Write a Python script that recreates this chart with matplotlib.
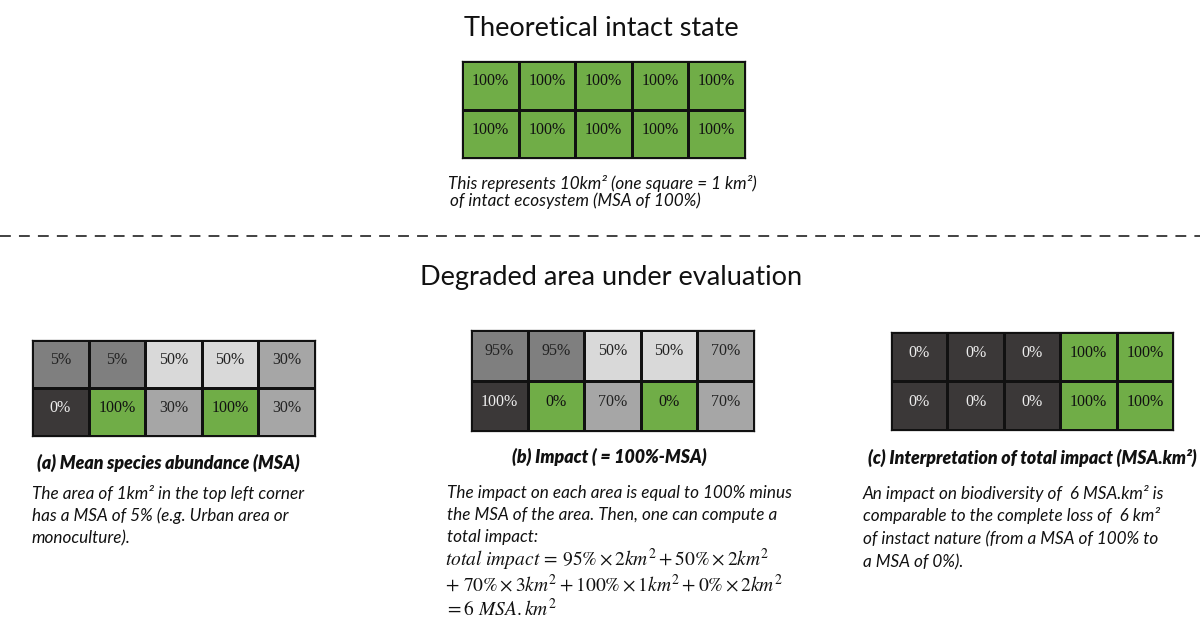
import matplotlib
matplotlib.use("Agg")
import matplotlib.pyplot as plt
from matplotlib.colors import ListedColormap
import numpy as np

plt.rcParams['mathtext.fontset'] = 'stix'

# ---- data ----
intact_msa = [[100, 100, 100, 100, 100],
              [100, 100, 100, 100, 100]]
msa_values = [[5, 5, 50, 50, 30],
              [0, 100, 30, 100, 30]]
impact_values = [[95, 95, 50, 50, 70],
                 [100, 0, 70, 0, 70]]
interp_values = [[0, 0, 0, 100, 100],
                 [0, 0, 0, 100, 100]]
# colour of each cell follows the MSA level
interp_msa = [[0, 0, 0, 100, 100],
              [0, 0, 0, 100, 100]]

msa_levels = [0, 5, 30, 50, 100]
level_colors = ['#3B3838', '#7F7F7F', '#A6A6A6', '#D9D9D9', '#70AD47']
level_textcolors = ['#EDEDED', '#222222', '#222222', '#222222', '#111111']

W, H = 1200, 620
fig = plt.figure(figsize=(12, 6.2), dpi=100)
bg = fig.add_axes([0, 0, 1, 1])
bg.set_xlim(0, W)
bg.set_ylim(H, 0)
bg.axis('off')

cmap = ListedColormap(level_colors)


def draw_grid(x0, y0, x1, y1, color_vals, label_vals):
    ax = fig.add_axes([x0 / W, 1 - y1 / H, (x1 - x0) / W, (y1 - y0) / H])
    idx = np.array([[msa_levels.index(v) for v in row] for row in color_vals])
    ax.pcolormesh(np.arange(6), np.arange(3), idx, cmap=cmap, vmin=-0.5,
                  vmax=len(msa_levels) - 0.5, edgecolors='#111111', linewidth=0.8)
    ax.set_xlim(0, 5)
    ax.set_ylim(2, 0)
    for r, row in enumerate(label_vals):
        for c, v in enumerate(row):
            tc = level_textcolors[idx[r][c]]
            ax.text(c + 0.5, r + 0.42, f"{v}%", ha='center', va='center',
                    fontsize=11.5, color=tc, family='Liberation Serif')
    ax.set_xticks([])
    ax.set_yticks([])
    for s in ax.spines.values():
        s.set_linewidth(0.9)
        s.set_color('#111111')


draw_grid(462, 61, 745, 158, intact_msa, intact_msa)
draw_grid(32, 340, 315, 436, msa_values, msa_values)
draw_grid(471, 330, 754, 431, [[100 - v for v in row] for row in impact_values], impact_values)
draw_grid(891, 332, 1173, 430, interp_msa, interp_values)

sans = 'Lato'
bg.text(601, 29, "Theoretical intact state", ha='center', va='center',
        fontsize=19.5, family=sans, color='#111111')
bg.text(448, 183, "This represents 10km² (one square = 1 km²)", ha='left', va='center',
        fontsize=12.3, style='italic', family=sans, color='#111111')
bg.text(450, 201, "of intact ecosystem (MSA of 100%)", ha='left', va='center',
        fontsize=12.3, style='italic', family=sans, color='#111111')

bg.plot([0, 1200], [236, 236], ls=(0, (6, 4.5)), color='#333333', lw=1.3)

bg.text(611, 277, "Degraded area under evaluation", ha='center', va='center',
        fontsize=19.5, family=sans, color='#111111')

# captions
cap_kw = dict(ha='center', va='center', fontsize=12.8, style='italic',
              weight='heavy', family=sans, color='#111111')
bg.text(168, 463, "(a) Mean species abundance (MSA)", **cap_kw)
bg.text(609, 457, "(b) Impact ( = 100%-MSA)", **cap_kw)
bg.text(1032, 458, "(c) Interpretation of total impact (MSA.km²)", **cap_kw)

body_kw = dict(ha='left', va='center', fontsize=12.3, style='italic',
               family=sans, color='#111111')
for i, line in enumerate(["The area of 1km² in the top left corner",
                          "has a MSA of 5% (e.g. Urban area or",
                          "monoculture)."]):
    bg.text(32, 494 + 22 * i, line, **body_kw)

for i, line in enumerate(["The impact on each area is equal to 100% minus",
                          "the MSA of the area. Then, one can compute a",
                          "total impact:"]):
    bg.text(447, 493 + 22 * i, line, **body_kw)

math_lines = [r"$total\ impact\, =\, 95\%\times 2km^2 + 50\%\times 2km^2$",
              r"$+\ 70\%\times 3km^2 + 100\%\times 1km^2 + 0\%\times 2km^2$",
              r"$=6\ MSA.km^2$"]
for i, line in enumerate(math_lines):
    bg.text(445, 560 + 24.5 * i, line, ha='left', va='center', fontsize=14,
            color='#111111')

for i, line in enumerate(["An impact on biodiversity of  6 MSA.km² is",
                          "comparable to the complete loss of  6 km²",
                          "of instact nature (from a MSA of 100% to",
                          "a MSA of 0%)."]):
    bg.text(863, 493 + 23 * i, line, **body_kw)

fig.savefig("out.png", dpi=100, facecolor='white')
